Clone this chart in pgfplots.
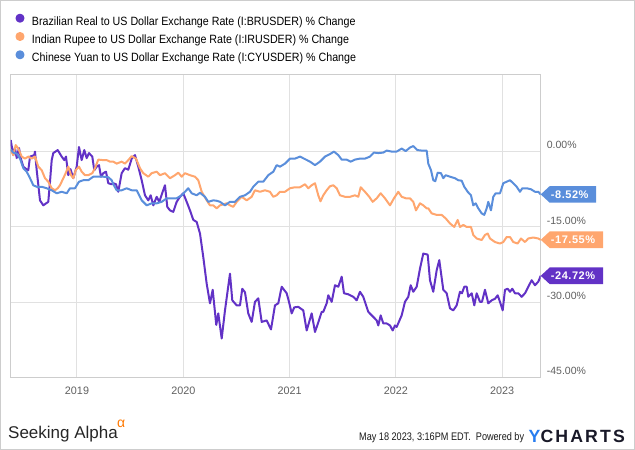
\documentclass[border=0pt]{standalone}
\usepackage{pgfplots}
\pgfplotsset{compat=1.18}
\usepackage{pgfplotstable}
\usepackage{fontspec}
\setmainfont{Liberation Sans}
\newfontfamily\legfont[FakeStretch=0.89]{Liberation Sans}
\newfontfamily\footfont[FakeStretch=0.83]{Liberation Sans}
\newfontfamily\ychfont[LetterSpace=12]{Liberation Sans Bold}
\newfontfamily\tagfont[LetterSpace=5]{Liberation Sans Bold}
\definecolor{brl}{RGB}{98,50,198}
\definecolor{inr}{RGB}{255,166,110}
\definecolor{cny}{RGB}{90,142,219}
\definecolor{gridc}{RGB}{225,225,225}
\definecolor{framec}{RGB}{205,205,205}
\definecolor{ticklab}{RGB}{95,95,95}
\definecolor{saorange}{RGB}{255,120,0}
\definecolor{ychblue}{RGB}{40,125,240}
\definecolor{ychdark}{RGB}{25,25,40}
\begin{document}
\pgfplotstableread{
px v
10.7 2.3
13.3 -0.7
15 0.7
16.7 -1.3
19 0.7
21 -1.5
23.3 -3
25.7 -3.4
28.3 -3.7
30 -1
34.3 -0.7
35 0
36.7 -3.7
40 -9.7
43.3 -10.7
48.3 -10
50 -6
51.7 -1.7
53.3 -0.3
57.7 0.3
61.7 -1
64.3 -1.7
66 -1
68.3 -4.7
70.5 -3.5
73.3 -5.3
76.7 -3
79 0.9
81.7 -1.7
84.3 0.3
86.7 -1.3
89 -0.3
92.3 -1
94.3 -3.7
96.7 -3
99 -2.7
101 -5
103.3 -4.3
106 -4
108.3 -6.3
111.7 -6.5
113.3 -6.3
116 -6.5
118.3 -8
121.7 -4.3
125 -3.3
128.3 -3.6
131.7 -1.4
135 -0.7
138.3 -3
141.7 -5.7
145 -8.7
148.3 -9.7
150.7 -8.7
153.3 -10.7
156.7 -9
159.3 -10
162.7 -8
165 -6.7
167.3 -11
170 -11.7
173.3 -12
176.7 -10
180 -9
183.3 -8.3
186.7 -10
190 -11.7
193.3 -13.6
196.7 -14
200 -16.3
203.3 -21
206.7 -26.3
210 -30.2
212.7 -27.5
216.3 -34.5
218.3 -32.2
221.7 -37.2
225 -31.6
230 -24.3
232.3 -29.6
236.7 -30.6
240 -30.6
242.3 -27.3
245 -28
248.3 -32.2
251.7 -33.9
255 -29.9
258.3 -29.2
261.7 -33.9
266.7 -33.6
271 -35.4
275 -30.6
278.3 -30.2
281.7 -26.9
286.7 -28.2
289 -29.9
291.7 -32.2
294.3 -31
298.3 -30.9
303.3 -31.6
306.7 -35.6
311.7 -32.2
315 -35.9
318.3 -34
321.7 -31.9
323.3 -31.9
326.7 -30.2
328.3 -28.6
331.7 -29.9
335 -26.6
338.3 -26.9
341.7 -24.9
344 -28.2
348.3 -28.4
353.3 -28.9
356.7 -29.6
360 -27.9
363.3 -28.9
368.3 -31.9
373.3 -32.9
376.7 -33.6
378.3 -34.6
380.7 -32.6
383.3 -34.2
386.7 -34.2
390 -34.6
392.7 -35.6
395 -34.6
396.7 -34.9
401.7 -32.6
405 -29.9
408.3 -28.9
410.7 -26.6
413.3 -27.9
416.7 -26.9
420 -23.3
423.3 -20.3
427.7 -20.5
430 -25.6
433.3 -27.9
436.7 -23.6
439.3 -21.6
443.3 -27.5
446.7 -28.2
450 -31.2
453.3 -31.6
456.7 -30.6
460 -27.9
462 -28.2
464.3 -26.9
466.7 -26.9
468.3 -28.9
471.7 -28.2
474.3 -30.6
476.7 -28.2
480 -29.9
482 -29.9
485 -27.5
488.3 -30.2
491.7 -29.6
495 -29.3
497.7 -28.6
500 -29.9
502.7 -31.6
505 -27.5
507.7 -27.3
510 -27.9
512.3 -27.3
515 -28.2
518.3 -28.2
521.7 -28.9
525 -28.2
528.3 -26.9
531.7 -25.6
535 -26.6
538.3 -25.9
540.7 -24.72
}\brl
\pgfplotstableread{
px v
10.7 0.3
13.3 -0.7
15.7 1.3
18.3 0.6
21.7 -1
25 -1.4
28.3 -1
31.7 -1.4
35 -1
38.3 -3
41.7 -3.7
45 -5.3
48.3 -6
51.7 -7.3
55 -7.7
57.7 -7.3
60 -6.7
63.3 -5.3
65.7 -4.3
68.3 -3
71 -4.7
73.3 -5.3
75.7 -3.7
79 -3
81.7 -4
85 -4.7
88.3 -4.7
92.3 -4.3
95 -3.3
98.3 -1.6
103.3 -1.7
106.7 -1.7
110 -2
113.3 -2
116.7 -2.4
121.7 -2
125 -2.4
128.3 -1.7
131.7 -0.9
136 -1.4
140 -3.3
143.3 -4.3
148.3 -5
151.7 -4.3
156.7 -4
160 -4.7
165 -4.3
170 -5.3
175 -4.7
178.3 -4.2
181.7 -5
185 -4.3
190 -4.7
195 -5
198.3 -5.7
201.7 -8
206.7 -9.7
210 -10.7
213.3 -10.7
216.7 -11.3
220 -10.7
226.7 -10.3
230 -10.7
233.3 -11
236.7 -10
241.7 -9
246.7 -9.7
251.7 -9
255 -7.7
260 -8
265 -7.7
270 -8
273.3 -9
276.7 -8.7
280 -8
285 -8
290 -7.3
295 -7.1
300 -7.1
305 -6.5
308.3 -7.3
311.7 -6.7
315 -6.3
318.3 -8.7
320.5 -9.9
323.3 -8.7
326.7 -7.7
330 -6.9
333.3 -6.7
336.7 -7.3
340 -8.7
345 -9
350 -9
355 -8.7
358.3 -9
360.7 -7.1
365 -8
369.3 -9
372.7 -10
376.7 -9.3
380.7 -8.3
385 -9.3
390 -10.7
394 -9.3
398.3 -8
401.7 -9
406 -9.3
410 -9.3
413.3 -10
416 -11.7
420 -10.3
423.3 -10.7
426.7 -11.3
428.3 -11.3
431.7 -12.3
436.7 -12.6
441.7 -12.6
445.7 -13.3
450 -14.3
454.3 -15
457.7 -13.6
460 -15
463.3 -14.6
466.7 -15
471 -15
473.3 -16.6
476.7 -17.3
481.7 -17.6
485 -16.6
487.7 -16.3
490 -17.3
495 -18
500 -18.3
503.3 -18
506.7 -17
510 -17
513.3 -18
517.7 -18.3
521 -17.3
525 -18
528.3 -17.3
533.3 -17.1
538.3 -17.3
540.7 -17.55
}\inr
\pgfplotstableread{
px v
10.7 0.4
13.3 -0.2
16.7 -0.4
20 -1.4
23.3 -3.3
26.7 -4
30 -5.3
33.3 -6.7
36.7 -7
41.7 -7
46.7 -7.3
51.7 -7.7
56.7 -8.3
61.7 -8
66.7 -8.3
70 -7.3
75 -7.3
79 -6
83.3 -5.7
88.3 -5.7
93.3 -5
98.3 -5
103.3 -5
108.3 -5.1
111.7 -5.7
113.3 -6.5
116.7 -7.7
121.7 -7.7
126.7 -7.3
131.7 -7.7
136.7 -7.7
141.7 -9.7
146.7 -10.7
151.7 -10.3
156.7 -10.3
161.7 -10
166.7 -9.3
171.7 -9.3
176.7 -9.3
181.7 -8.7
185 -8
188.3 -7.3
191.7 -8.3
196.7 -8.7
200 -8.2
205 -9
208.3 -10
213.3 -9.7
217 -9.8
220 -10
225 -10.7
230 -10
235 -10
240 -9
245 -8.7
250 -8
253.3 -7
258.3 -6
263.3 -6
268.3 -4.7
273.3 -4
276.7 -2.7
280 -3
285 -2.4
290 -1.4
295 -1.4
300 -1
305 -1.5
310 -2
315 -2.7
320 -2
325 -1
330 -0.5
334 0
338.3 -0.7
341.7 -1.6
346.7 -1.6
350.7 -2
355 -1.6
360 -1.4
365 -1.4
370 -1
374 -0.2
378.3 -0.3
383.3 -0.2
386.7 0.2
391.7 0
396.7 0
401.7 0.6
405.7 0.1
410 0.8
413.3 1.1
417.3 0.3
421.7 0.2
426.7 0.2
428.3 -2.4
431 -3.7
433.3 -5.7
435.3 -5.9
437.7 -4.2
441 -4.3
443.3 -5.3
445.7 -4.7
450 -5
455 -5.3
458.3 -5.7
461.7 -5.8
464.3 -7
467.7 -8
471 -8.7
473.3 -10.7
475.7 -10.3
478.3 -11.3
481.7 -12.3
484.3 -12.6
486.7 -11.3
488.3 -10
491 -11.7
493.3 -9
495.7 -8.3
500 -8.3
503.3 -6.3
506.7 -6
510 -5.7
513.3 -6.3
516.7 -7
520 -8
522.3 -7.3
526.7 -7.3
531 -7.5
535 -8
538.3 -8
540.7 -8.52
}\cny
\begin{tikzpicture}
\path[use as bounding box] (0,0) rectangle (635pt,450pt);
\draw[framec, line width=1pt] (0.5pt,0.5pt) rectangle (634.5pt,449.5pt);
\begin{axis}[
  at={(10.7pt,72.3pt)}, anchor=south west,
  scale only axis, width=530pt, height=302.7pt,
  xmin=2018.3763, xmax=2023.3622, ymin=-45, ymax=15.24,
  xtick={2019,2020,2021,2022,2023},
  xticklabels={2019,2020,2021,2022,2023},
  ytick={-45,-30,-15,0},
  yticklabels={-45.00\%,-30.00\%,-15.00\%,0.00\%},
  grid=major, major grid style={gridc, line width=1pt},
  axis line style={framec, line width=1pt},
  major tick length=0pt, tick style={draw=none},
  yticklabel pos=right,
  yticklabel style={anchor=west, inner sep=0pt, xshift=6pt, yshift=6.5pt, font=\fontsize{10.5}{10.5}\selectfont, text=ticklab},
  xticklabel style={anchor=north, inner sep=0pt, yshift=-9pt, font=\fontsize{10.8}{10.8}\selectfont, text=ticklab},
  legend cell align=left,
  legend style={draw=none, fill=none, at={(axis description cs:0,1)}, anchor=north west, xshift=4.8pt, yshift=61.3pt, inner sep=0pt, outer sep=0pt, row sep=5.4pt, nodes={inner sep=0pt}, font=\legfont\fontsize{12}{12}\selectfont, /tikz/every odd column/.style={column sep=7.5pt}},
  legend image code/.code={\fill[#1] (3.5pt,3.3pt) circle (3.5pt);},
  every axis plot/.append style={line width=2pt, line join=round},
]
\addplot[brl] table[x expr={2019+(\thisrow{px}-77)/106.3}, y=v] {\brl};
\addlegendentry{Brazilian Real to US Dollar Exchange Rate (I:BRUSDER) \% Change}
\addplot[inr] table[x expr={2019+(\thisrow{px}-77)/106.3}, y=v] {\inr};
\addlegendentry{Indian Rupee to US Dollar Exchange Rate (I:IRUSDER) \% Change}
\addplot[cny] table[x expr={2019+(\thisrow{px}-77)/106.3}, y=v] {\cny};
\addlegendentry{Chinese Yuan to US Dollar Exchange Rate (I:CYUSDER) \% Change}
\coordinate (tB) at (axis cs:2023.3622,-8.52);
\coordinate (tI) at (axis cs:2023.3622,-17.55);
\coordinate (tR) at (axis cs:2023.3622,-24.72);
\end{axis}
\fill[cny, shift={(tB)}] (0,0) -- (9pt,8.3pt) -- (55.3pt,8.3pt) -- (55.3pt,-8.3pt) -- (9pt,-8.3pt) -- cycle;
\fill[inr, shift={(tI)}] (0,0) -- (9pt,8.3pt) -- (62.3pt,8.3pt) -- (62.3pt,-8.3pt) -- (9pt,-8.3pt) -- cycle;
\fill[brl, shift={(tR)}] (0,0) -- (9pt,8.3pt) -- (62.3pt,8.3pt) -- (62.3pt,-8.3pt) -- (9pt,-8.3pt) -- cycle;
\node[anchor=west, inner sep=0pt, text=white, font=\tagfont\fontsize{11}{11}\selectfont] at ([xshift=10pt]tB) {-8.52\%};
\node[anchor=west, inner sep=0pt, text=white, font=\tagfont\fontsize{11}{11}\selectfont] at ([xshift=10pt]tI) {-17.55\%};
\node[anchor=west, inner sep=0pt, text=white, font=\tagfont\fontsize{11}{11}\selectfont] at ([xshift=10pt]tR) {-24.72\%};
\node[anchor=base west, inner sep=0pt, font=\fontsize{17}{17}\selectfont, text=black!85] at (8pt,11.7pt) {Seeking Alpha};
\node[anchor=base west, inner sep=0pt, font=\fontsize{14}{14}\selectfont, text=saorange] at (117pt,22pt) {α};
\node[anchor=base west, inner sep=0pt, font=\footfont\fontsize{11}{11}\selectfont, text=black!90] at (359pt,9.3pt) {May 18 2023, 3:16PM EDT.\ \ Powered by};
\node[anchor=base west, inner sep=0pt, font=\ychfont\fontsize{17.7}{17.7}\selectfont] at (528.5pt,7.3pt) {\textcolor{ychblue}{Y}\textcolor{ychdark}{CHARTS}};
\end{tikzpicture}
\end{document}
